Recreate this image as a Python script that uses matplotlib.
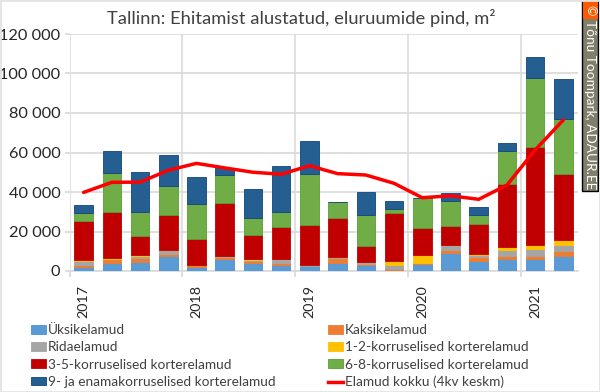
import numpy as np
import matplotlib
matplotlib.use('Agg')
import matplotlib.pyplot as plt
from matplotlib.patches import Rectangle
from matplotlib.lines import Line2D

plt.rcParams['font.family'] = ['Lato', 'DejaVu Sans']

# kvartalid 2017 Q1 ... 2021 Q2
years = ['2017', '2018', '2019', '2020', '2021']
uksik = [2000, 4000, 4700, 7600, 2200, 5900, 4050, 2900, 2500, 4050, 2900, 700, 3550, 8950, 5250, 6100, 5900, 7750]
kaksik = [1000, 2100, 2050, 800, 700, 1350, 1000, 1150, 200, 2350, 650, 500, 500, 1850, 1650, 1300, 1700, 2350]
rida = [2200, 200, 1000, 2200, 100, 100, 550, 1850, 100, 500, 1000, 1700, 100, 2350, 1200, 3400, 3500, 3200]
k12 = [200, 400, 150, 200, 100, 250, 300, 200, 0, 0, 100, 2300, 3750, 0, 500, 1350, 2050, 2200]
k35 = [19750, 23350, 10000, 17700, 13300, 26800, 12150, 16200, 20500, 19900, 8100, 24200, 14000, 9450, 15200, 32050, 49650, 33600]
k68 = [4250, 19550, 12150, 14500, 17700, 14000, 8800, 7600, 25800, 8000, 15700, 2000, 15100, 12800, 4550, 16600, 34900, 27900]
k9 = [4000, 11400, 19950, 15600, 13500, 3600, 14850, 23300, 16700, 0, 11450, 4200, 0, 3900, 3900, 4000, 10800, 20000]
keskmine = [39800, 44900, 45000, 51000, 54500, 52200, 50000, 49000, 53300, 49300, 48600, 44400, 37100, 38100, 36300, 43500, 61300, 76500]

series = [
    ('Üksikelamud', uksik, '#5b9bd5', '#4a90d4'),
    ('Kaksikelamud', kaksik, '#ed7d31', '#ed7d31'),
    ('Ridaelamud', rida, '#a5a5a5', '#a5a5a5'),
    ('1-2-korruselised korterelamud', k12, '#ffc000', '#ffc000'),
    ('3-5-korruselised korterelamud', k35, '#c00000', '#c00000'),
    ('6-8-korruselised korterelamud', k68, '#70ad47', '#55a030'),
    ('9- ja enamakorruselised korterelamud', k9, '#255e91', '#0f4580'),
]

W, H = 600, 392
fig = plt.figure(figsize=(W / 100, H / 100), dpi=100)
ax = fig.add_axes([69.5 / W, 1 - 271 / H, 508 / W, 237 / H])

x = np.arange(len(uksik))
bottom = np.zeros(len(uksik))
handles = []
for name, vals, col, edge in series:
    vals = np.array(vals)
    ax.bar(x, vals, 0.66, bottom=bottom, color=col, edgecolor=edge, linewidth=0.6, zorder=3)
    bottom += vals
    handles.append(Rectangle((0, 0), 1, 1, facecolor=col, edgecolor=edge, linewidth=0.6))
ax.plot(x, keskmine, color='#ff0000', lw=2.5, solid_capstyle='round', zorder=4)
handles.append(Line2D([0], [0], color='#ff0000', lw=2.5))
labels = [s[0] for s in series] + ['Elamud kokku (4kv keskm)']

ax.set_xlim(-0.5, len(uksik) - 0.5)
ax.set_ylim(0, 120000)
ax.set_yticks(np.arange(0, 120001, 20000))
ax.set_yticklabels([f'{v:,}'.replace(',', ' ') for v in range(0, 120001, 20000)], fontsize=11.8, color='#262626')
ax.set_xticks(np.arange(0, len(uksik), 4))
ax.set_xticklabels(years, rotation=90, fontsize=10.3, color='#262626')
ax.set_xticks(np.arange(-0.5, len(uksik), 4), minor=True)
ax.tick_params(axis='x', which='major', length=0, pad=10)
ax.tick_params(axis='x', which='minor', length=4.5, width=1.2, color='#d9d9d9')
ax.tick_params(axis='y', length=3.5, width=1.2, color='#d9d9d9', pad=3)
ax.grid(axis='y', color='#d9d9d9', lw=1.2, zorder=0)
ax.grid(axis='x', which='minor', color='#dcdcdc', lw=1.2, zorder=0)
ax.set_axisbelow(True)
for s in ['top', 'right', 'left']:
    ax.spines[s].set_visible(False)
ax.spines['bottom'].set_color('#d9d9d9')
ax.spines['bottom'].set_linewidth(1.2)

fig.text(301 / W, 1 - 18 / H, 'Tallinn: Ehitamist alustatud, eluruumide pind, m²', ha='center', va='center',
         fontsize=13.25, color='#404040')

# legendi järjekord ridade kaupa, seega veerud eraldi
order = [0, 2, 4, 6, 1, 3, 5, 7]
fig.legend([handles[i] for i in order], [labels[i] for i in order], ncol=2, frameon=False,
           loc='upper left', bbox_to_anchor=(31 / W, 1 - 324 / H), fontsize=9.85,
           handlelength=1.1, handleheight=0.6, handletextpad=0.15, labelspacing=0.385, columnspacing=3.8,
           labelcolor='#404040', borderpad=0, borderaxespad=0)

# autori silt paremal
fig.add_artist(Rectangle((582 / W, 1 - 191 / H), 16 / W, 190 / H, transform=fig.transFigure,
                         facecolor='#7f7f6c', edgecolor='black', lw=1))
fig.add_artist(Rectangle((582.5 / W, 1 - 19 / H), 15 / W, 18 / H, transform=fig.transFigure,
                         facecolor='#ff5a00', edgecolor='none'))
fig.text(590 / W, 1 - 10 / H, '©', color='white', rotation=270, ha='center', va='center', fontsize=9)
fig.text(590 / W, 1 - 104.5 / H, 'Tõnu Toompark, ADAUR.EE', color='white', rotation=270, ha='center', va='center',
         fontsize=9.8)

fig.add_artist(Rectangle((0, 0), 1, 1, transform=fig.transFigure, facecolor='none', edgecolor='#e4e4e4', lw=2))
fig.savefig('out.png', dpi=100)
